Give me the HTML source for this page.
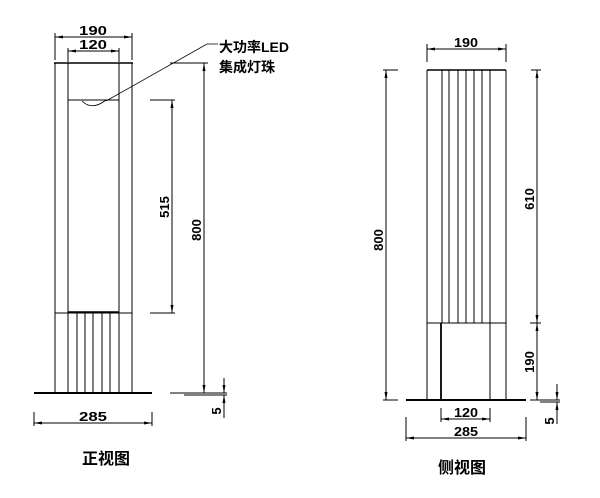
<!DOCTYPE html>
<html><head><meta charset="utf-8"><style>
html,body{margin:0;padding:0;background:#fff;}
svg{display:block}
text{font-family:"Liberation Sans","Noto Sans CJK SC",sans-serif;font-weight:bold;fill:#000}
</style></head><body>
<svg width="600" height="498" viewBox="0 0 600 498" xmlns="http://www.w3.org/2000/svg">
<defs>
<marker id="a" markerWidth="8" markerHeight="6" refX="8" refY="3" orient="auto-start-reverse" markerUnits="userSpaceOnUse"><path d="M0,1.5 L8,3 L0,4.5z" fill="#000"/></marker>
</defs>
<g stroke="#000" stroke-width="1" fill="none">
<!-- FRONT VIEW -->
<line x1="54" y1="63" x2="133" y2="63" stroke-width="1.5"/>
<line x1="55" y1="63" x2="55" y2="393"/>
<line x1="132" y1="63" x2="132" y2="393"/>
<line x1="68" y1="63" x2="68" y2="393"/>
<line x1="119" y1="63" x2="119" y2="393"/>
<line x1="68" y1="100" x2="119" y2="100"/>
<line x1="55" y1="313" x2="132" y2="313"/>
<line x1="68" y1="312" x2="119" y2="312" stroke-width="1.5"/>
<line x1="77" y1="313" x2="77" y2="393"/>
<line x1="85" y1="313" x2="85" y2="393"/>
<line x1="93" y1="313" x2="93" y2="393"/>
<line x1="102" y1="313" x2="102" y2="393"/>
<line x1="110" y1="313" x2="110" y2="393"/>
<rect x="34" y="392" width="118" height="2" fill="#000" stroke="none"/>
<path d="M82,101 Q92,111 106,100" stroke-width="0.8"/>
<polyline points="106,101 207,44 218,44" stroke-width="0.8"/>
<!-- front dims -->
<line x1="55" y1="33" x2="55" y2="60"/><line x1="132" y1="33" x2="132" y2="60"/>
<line x1="55" y1="37" x2="132" y2="37" marker-start="url(#a)" marker-end="url(#a)"/>
<line x1="68" y1="48" x2="68" y2="62"/><line x1="119" y1="48" x2="119" y2="62"/>
<line x1="68" y1="51" x2="119" y2="51" marker-start="url(#a)" marker-end="url(#a)"/>
<line x1="170" y1="63" x2="208" y2="63"/>
<line x1="204" y1="63" x2="204" y2="393" marker-start="url(#a)" marker-end="url(#a)"/>
<line x1="150" y1="100" x2="175" y2="100"/>
<line x1="150" y1="313" x2="175" y2="313"/>
<line x1="172" y1="100" x2="172" y2="313" marker-start="url(#a)" marker-end="url(#a)"/>
<line x1="170" y1="393" x2="227" y2="393"/>
<line x1="184" y1="395" x2="227" y2="395"/>
<line x1="224" y1="378" x2="224" y2="393" marker-end="url(#a)"/>
<line x1="224" y1="418" x2="224" y2="395" marker-end="url(#a)"/>
<line x1="34" y1="412" x2="34" y2="426"/><line x1="152" y1="412" x2="152" y2="426"/>
<line x1="34" y1="423" x2="152" y2="423" marker-start="url(#a)" marker-end="url(#a)"/>
<!-- SIDE VIEW -->
<line x1="427" y1="70" x2="506" y2="70" stroke-width="1.5"/>
<line x1="427" y1="70" x2="427" y2="400"/>
<line x1="506" y1="70" x2="506" y2="400"/>
<line x1="442" y1="70" x2="442" y2="323"/>
<line x1="449" y1="70" x2="449" y2="323"/>
<line x1="458" y1="70" x2="458" y2="323"/>
<line x1="466" y1="70" x2="466" y2="323"/>
<line x1="474" y1="70" x2="474" y2="323"/>
<line x1="482" y1="70" x2="482" y2="323"/>
<line x1="490" y1="70" x2="490" y2="400"/>
<line x1="427" y1="323" x2="506" y2="323"/>
<line x1="441" y1="323" x2="441" y2="400" stroke-width="1.8"/>
<rect x="406" y="399" width="120" height="2" fill="#000" stroke="none"/>
<!-- side dims -->
<line x1="427" y1="44" x2="427" y2="62"/><line x1="506" y1="44" x2="506" y2="62"/>
<line x1="427" y1="49" x2="506" y2="49" marker-start="url(#a)" marker-end="url(#a)"/>
<line x1="383" y1="70" x2="398" y2="70"/>
<line x1="383" y1="400" x2="398" y2="400"/>
<line x1="386" y1="70" x2="386" y2="400" marker-start="url(#a)" marker-end="url(#a)"/>
<line x1="531" y1="70" x2="541" y2="70"/>
<line x1="530" y1="323" x2="541" y2="323"/>
<line x1="530" y1="400" x2="560" y2="400"/>
<line x1="540" y1="402" x2="560" y2="402"/>
<line x1="537" y1="70" x2="537" y2="323" marker-start="url(#a)" marker-end="url(#a)"/>
<line x1="537" y1="323" x2="537" y2="400" marker-start="url(#a)" marker-end="url(#a)"/>
<line x1="557" y1="384" x2="557" y2="400" marker-end="url(#a)"/>
<line x1="557" y1="424" x2="557" y2="402" marker-end="url(#a)"/>
<line x1="441" y1="408" x2="441" y2="422"/><line x1="490" y1="408" x2="490" y2="422"/>
<line x1="441" y1="419" x2="490" y2="419" marker-start="url(#a)" marker-end="url(#a)"/>
<line x1="406" y1="417" x2="406" y2="441"/><line x1="526" y1="417" x2="526" y2="441"/>
<line x1="406" y1="438" x2="526" y2="438" marker-start="url(#a)" marker-end="url(#a)"/>
</g>
<g font-size="13">
<text x="93" y="35" text-anchor="middle" textLength="28" lengthAdjust="spacingAndGlyphs">190</text>
<text x="93" y="49" text-anchor="middle" textLength="28" lengthAdjust="spacingAndGlyphs">120</text>
<text x="219" y="52" font-size="14">大功率LED</text>
<text x="219" y="72" font-size="14">集成灯珠</text>
<text transform="translate(169,207) rotate(-90)" text-anchor="middle">515</text>
<text transform="translate(201,230) rotate(-90)" text-anchor="middle">800</text>
<text transform="translate(221,411) rotate(-90)" text-anchor="middle">5</text>
<text x="93" y="421" text-anchor="middle" textLength="28" lengthAdjust="spacingAndGlyphs">285</text>
<text x="106" y="464" text-anchor="middle" font-size="16">正视图</text>
<text x="466" y="47" text-anchor="middle" textLength="24" lengthAdjust="spacingAndGlyphs">190</text>
<text transform="translate(383,240) rotate(-90)" text-anchor="middle">800</text>
<text transform="translate(534,199) rotate(-90)" text-anchor="middle">610</text>
<text transform="translate(534,362) rotate(-90)" text-anchor="middle">190</text>
<text transform="translate(554,421) rotate(-90)" text-anchor="middle">5</text>
<text x="466" y="417" text-anchor="middle" textLength="24" lengthAdjust="spacingAndGlyphs">120</text>
<text x="466" y="436" text-anchor="middle" textLength="24" lengthAdjust="spacingAndGlyphs">285</text>
<text x="462" y="473" text-anchor="middle" font-size="16">侧视图</text>
</g>
</svg>
</body></html>
